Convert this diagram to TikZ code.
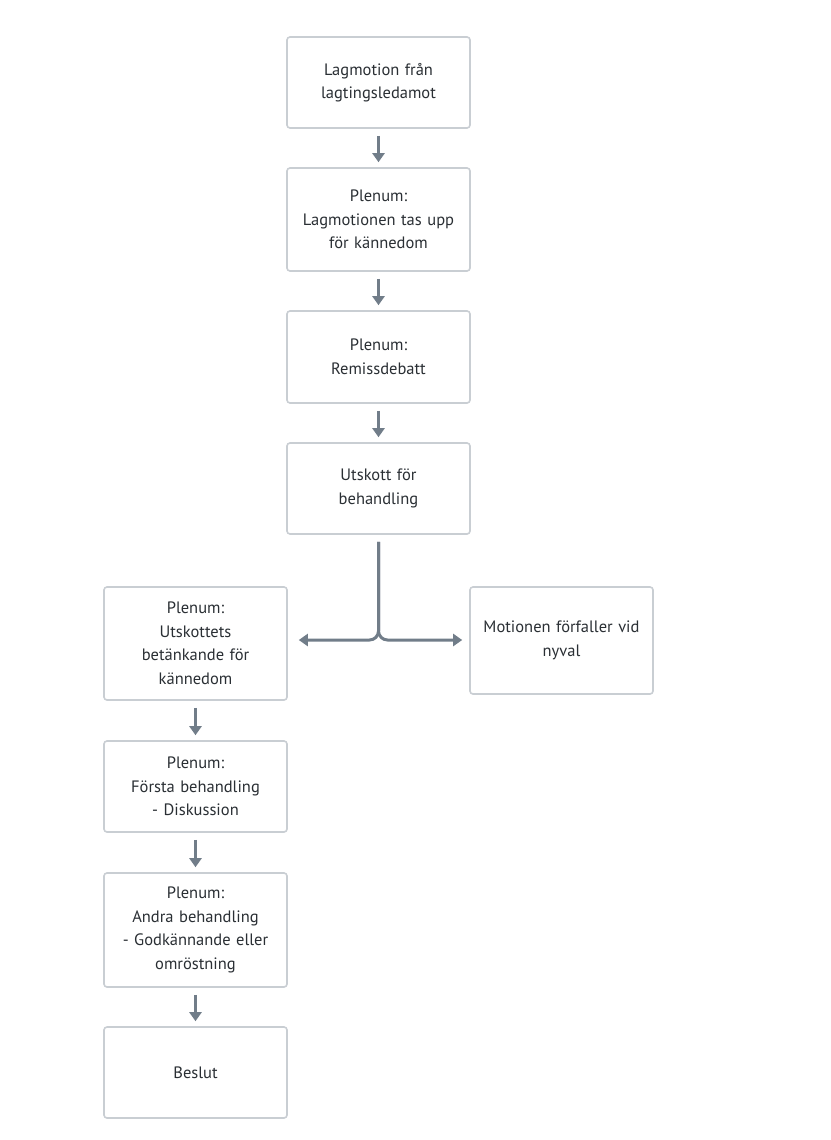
\documentclass[tikz,border=0pt]{standalone}
\usepackage{fontspec}
\setmainfont{PT Sans}
\usetikzlibrary{arrows.meta}
\definecolor{boxc}{HTML}{C9CED3}
\definecolor{arrc}{HTML}{717D89}
\definecolor{txtc}{HTML}{2A2F34}
\begin{document}
\begin{tikzpicture}[x=1pt,y=-1pt,
  box/.style={draw=boxc, line width=1.6pt, rounded corners=3pt, fill=white,
    minimum width=183pt, align=center, text width=176pt, text=txtc,
    font=\fontsize{16.5}{23.5}\selectfont, inner sep=0pt},
  arr/.style={draw=arrc, line width=3pt, -{Triangle[length=9pt,width=12pt]},
    shorten <=7pt, shorten >=5pt}]
\useasboundingbox[fill=white] (0,0) rectangle (830,1140);
\node[box, minimum height=91pt] (a) at (378.5,82.5) {Lagmotion från\\lagtingsledamot};
\node[box, minimum height=103pt] (b) at (378.5,219.5) {Plenum:\\Lagmotionen tas upp\\för kännedom};
\node[box, minimum height=92pt] (c) at (378.5,357) {Plenum:\\Remissdebatt};
\node[box, minimum height=91pt] (d) at (378.5,488.5) {Utskott för\\behandling};
\node[box, minimum height=113pt] (e) at (195.5,643.5) {Plenum:\\Utskottets\\betänkande för\\kännedom};
\node[box, minimum height=107pt] (r) at (561.5,640.5) {Motionen förfaller vid\\nyval};
\node[box, minimum height=91pt] (f) at (195.5,786.5) {Plenum:\\Första behandling\\- Diskussion};
\node[box, minimum height=114pt] (g) at (195.5,930) {Plenum:\\Andra behandling\\- Godkännande eller\\omröstning};
\node[box, minimum height=91pt] (h) at (195.5,1072.5) {Beslut};
\coordinate (j) at (378.5,640);
\draw[arr] (a) -- (b);
\draw[arr] (b) -- (c);
\draw[arr] (c) -- (d);
\draw[arr, rounded corners=9pt, shorten >=11pt] (d.south) -- (j) -- (e.east |- j);
\draw[arr, rounded corners=9pt, shorten >=7pt] (d.south) -- (j) -- (r.west |- j);
\draw[arr] (e) -- (f);
\draw[arr] (f) -- (g);
\draw[arr] (g) -- (h);
\end{tikzpicture}
\end{document}
